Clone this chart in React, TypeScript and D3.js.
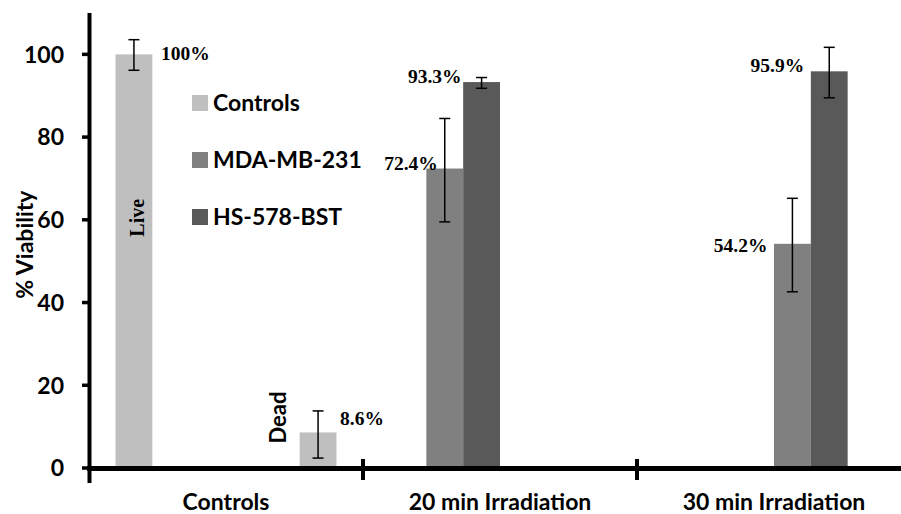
import React from 'react';
import * as d3 from 'd3';

const categories = ['Controls', '20 min Irradiation', '30 min Irradiation'];
const seriesNames = ['Controls', 'MDA-MB-231', 'HS-578-BST'];
const seriesColors = ['#bfbfbf', '#808080', '#595959'];
const slots = ['s0', 's1', 's2', 's3', 's4', 's5'];
const barCategory = ['Controls', 'Controls', '20 min Irradiation', '20 min Irradiation', '30 min Irradiation', '30 min Irradiation'];
const barSeries = ['Controls', 'Controls', 'MDA-MB-231', 'HS-578-BST', 'MDA-MB-231', 'HS-578-BST'];
const barSlot = ['s0', 's5', 's1', 's2', 's3', 's4'];
const barValues = [100, 8.6, 72.4, 93.3, 54.2, 95.9];
const errCenters = [99.85, 8.1, 72, 93.1, 53.9, 95.6];
const errHalf = [3.7, 5.7, 12.5, 1.3, 11.3, 6.1];
const barLabels = ['100%', '8.6%', '72.4%', '93.3%', '54.2%', '95.9%'];
const barTags = ['Live', 'Dead', '', '', '', ''];
const yTicks = [0, 20, 40, 60, 80, 100];

const W = 901, H = 514;
const SANS = 'Lato, "Open Sans", sans-serif';
const SERIF = '"Liberation Serif", "Times New Roman", serif';

// label layout nudges: [anchor, dx from bar center, dy from value]
const labelLayout: [string, number, number][] = [
  ['start', 27, 6],
  ['start', 22, -7],
  ['end', -7, 1],
  ['end', -20, 1],
  ['end', -25, 8],
  ['end', -25, 1],
];
// tag layout: [dx from bar center, y center in value units, font, size]
const tagLayout: [number, number, string, number][] = [
  [10, 60.5, SERIF, 20],
  [-32, 12.2, SANS, 22],
];

export default function App() {
  const x = d3.scaleBand<string>().domain(categories).range([89, 911]).padding(0);
  const sub = d3.scaleBand<string>().domain(slots).range([0, x.bandwidth()]).paddingInner(0).paddingOuter(0.72);
  const y = d3.scaleLinear().domain([0, 110]).range([468, 13]);
  const color = d3.scaleOrdinal<string, string>().domain(seriesNames).range(seriesColors);
  const bw = sub.bandwidth();
  const y0 = y(0);

  return (
    <svg width={W} height={H} style={{ position: 'absolute', left: 0, top: 0, background: '#fff' }}>
      <rect width={W} height={H} fill="#fff" />
      {barValues.map((v, i) => {
        const bx = (x(barCategory[i]) as number) + (sub(barSlot[i]) as number);
        return <rect key={'b' + i} x={bx} y={y(v)} width={bw} height={y0 - y(v)} fill={color(barSeries[i])} />;
      })}
      {errCenters.map((c, i) => {
        const cx = (x(barCategory[i]) as number) + (sub(barSlot[i]) as number) + bw / 2;
        const t = y(c + errHalf[i]), b = y(c - errHalf[i]);
        return (
          <g key={'e' + i} stroke="#000" strokeWidth={1.5}>
            <line x1={cx} x2={cx} y1={t} y2={b} />
            <line x1={cx - 5.5} x2={cx + 5.5} y1={t} y2={t} />
            <line x1={cx - 5.5} x2={cx + 5.5} y1={b} y2={b} />
          </g>
        );
      })}
      {barLabels.map((l, i) => {
        const cx = (x(barCategory[i]) as number) + (sub(barSlot[i]) as number) + bw / 2;
        const [anchor, dx, dy] = labelLayout[i];
        return (
          <text key={'l' + i} x={cx + dx} y={y(barValues[i]) + dy} textAnchor={anchor as any}
            fontFamily={SERIF} fontWeight="bold" fontSize={19.5} fill="#000">{l}</text>
        );
      })}
      {barTags.map((t, i) => {
        if (!t) return null;
        const cx = (x(barCategory[i]) as number) + (sub(barSlot[i]) as number) + bw / 2;
        const [dx, vy, font, fs] = tagLayout[i];
        return (
          <text key={'t' + i} transform={`translate(${cx + dx},${y(vy)}) rotate(-90)`} textAnchor="middle"
            fontFamily={font} fontWeight="bold" fontSize={fs} fill="#000">{t}</text>
        );
      })}
      {/* y axis */}
      <line x1={89.5} x2={89.5} y1={13} y2={483} stroke="#000" strokeWidth={4} />
      {yTicks.map((t) => (
        <g key={'y' + t}>
          <line x1={82} x2={89} y1={y(t)} y2={y(t)} stroke="#000" strokeWidth={3.5} />
          <text x={64} y={y(t)} dy="0.36em" textAnchor="end" fontFamily={SANS} fontWeight="bold" fontSize={23} fill="#000">{t}</text>
        </g>
      ))}
      <text transform={`translate(33,${y(54)}) rotate(-90)`} textAnchor="middle" fontFamily={SANS} fontWeight="bold" fontSize={23} fill="#000">% Viability</text>
      {/* x axis */}
      <line x1={87} x2={W} y1={y0 + 0.5} y2={y0 + 0.5} stroke="#000" strokeWidth={5} />
      {categories.slice(1).map((c) => (
        <line key={'xt' + c} x1={x(c) as number} x2={x(c) as number} y1={459} y2={480} stroke="#000" strokeWidth={4} />
      ))}
      {categories.map((c) => (
        <text key={'xl' + c} x={(x(c) as number) + x.bandwidth() / 2} y={510} textAnchor="middle"
          fontFamily={SANS} fontWeight="bold" fontSize={23} fill="#000">{c}</text>
      ))}
      {/* legend */}
      {seriesNames.map((s, i) => (
        <g key={'lg' + s} transform={`translate(192,${103 + i * 57})`}>
          <rect x={0} y={-8} width={16} height={16} fill={color(s)} />
          <text x={21} y={0} dy="0.36em" fontFamily={SANS} fontWeight="bold" fontSize={23} fill="#000">{s}</text>
        </g>
      ))}
    </svg>
  );
}
